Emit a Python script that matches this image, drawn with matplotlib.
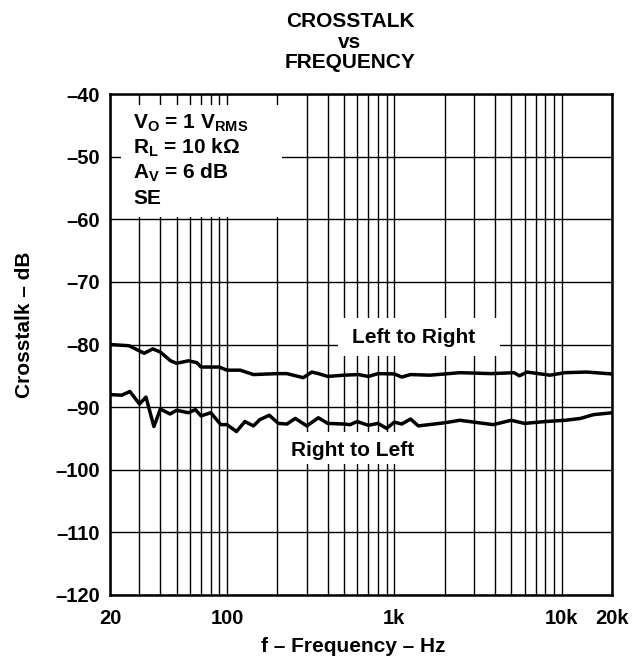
import numpy as np
import matplotlib
matplotlib.use('Agg')
import matplotlib.pyplot as plt
from matplotlib.patches import Rectangle
from matplotlib.ticker import FixedLocator, NullFormatter

plt.rcParams['font.family'] = ['Liberation Sans', 'DejaVu Sans']
plt.rcParams['font.weight'] = 'bold'
plt.rcParams['axes.labelweight'] = 'bold'
plt.rcParams['mathtext.fontset'] = 'custom'
plt.rcParams['mathtext.rm'] = 'Liberation Sans:bold'
plt.rcParams['mathtext.it'] = 'Liberation Sans:bold'
plt.rcParams['mathtext.bf'] = 'Liberation Sans:bold'

# Left to Right crosstalk (Hz, dB)
ltr_freq = [20, 26, 32, 36, 40, 46, 50, 59, 66, 70, 90, 100, 120, 144, 200, 228,
            286, 321, 352, 400, 500, 610, 700, 800, 1000, 1108, 1250, 1634,
            2466, 3800, 5200, 5600, 6200, 8500, 10500, 14100, 20000]
ltr_db = [-80.0, -80.2, -81.4, -80.7, -81.2, -82.6, -83.0, -82.6, -82.9, -83.6,
          -83.6, -84.1, -84.1, -84.8, -84.65, -84.65, -85.3, -84.4, -84.65,
          -85.1, -84.9, -84.8, -85.1, -84.65, -84.7, -85.2, -84.8, -84.9,
          -84.5, -84.65, -84.5, -85.0, -84.4, -84.9, -84.5, -84.4, -84.7]

# Right to Left crosstalk (Hz, dB)
rtl_freq = [20, 23.5, 26.3, 30, 32.8, 36.6, 40, 45.7, 50, 58.8, 64.8, 70, 80,
            92, 100, 114, 128, 144, 157, 179, 203, 228, 256, 300, 352, 400,
            500, 544, 600, 700, 800, 900, 1000, 1108, 1250, 1392, 2000, 2466,
            3900, 5000, 6000, 8000, 10500, 13000, 15500, 20000]
rtl_db = [-88.0, -88.1, -87.5, -89.5, -88.4, -93.1, -90.3, -91.1, -90.5, -90.9,
          -90.4, -91.4, -90.9, -92.8, -92.8, -93.9, -92.3, -93.0, -92.0, -91.3,
          -92.6, -92.7, -91.8, -93.0, -91.7, -92.6, -92.7, -92.8, -92.3, -92.9,
          -92.6, -93.4, -92.4, -92.7, -91.9, -93.0, -92.5, -92.1, -92.8, -92.1,
          -92.6, -92.3, -92.1, -91.8, -91.2, -90.9]

x_ticks = [20, 100, 1000, 10000, 20000]
x_labels = ['20', '100', '1k', '10k', '20k']
y_ticks = [-40, -50, -60, -70, -80, -90, -100, -110, -120]
y_labels = ['\u201340', '\u201350', '\u201360', '\u201370', '\u201380', '\u201390',
            '\u2013100', '\u2013110', '\u2013120']

W, H = 642, 662
fig = plt.figure(figsize=(W / 100, H / 100), dpi=100)
ax = fig.add_axes([110 / W, 1 - 595 / H, 502 / W, 501 / H])

ax.set_xscale('log')
ax.set_xlim(20, 20000)
ax.set_ylim(-120, -40)

grid_x = list(range(20, 100, 10)) + list(range(100, 1000, 100)) + \
    list(range(1000, 10000, 1000)) + [10000, 20000]
ax.xaxis.set_major_locator(FixedLocator(x_ticks))
ax.set_xticklabels(x_labels)
ax.xaxis.set_minor_locator(FixedLocator(grid_x))
ax.xaxis.set_minor_formatter(NullFormatter())
ax.set_yticks(y_ticks)
ax.set_yticklabels(y_labels)
ax.tick_params(which='both', length=0, labelsize=14.5)
ax.tick_params(axis='x', pad=10)
ax.tick_params(axis='y', pad=7)
ax.grid(True, which='both', color='black', linewidth=1.0)
ax.set_axisbelow(True)

for s in ax.spines.values():
    s.set_linewidth(1.8)
    s.set_zorder(10)

# white boxes that cut the grid
ax.add_patch(Rectangle((0.022, 0.755), 0.321, 0.223, transform=ax.transAxes,
                       facecolor='white', edgecolor='none', zorder=2))
ax.add_patch(Rectangle((0.454, 0.477), 0.323, 0.076, transform=ax.transAxes,
                       facecolor='white', edgecolor='none', zorder=2))
ax.add_patch(Rectangle((0.349, 0.261), 0.278, 0.064, transform=ax.transAxes,
                       facecolor='white', edgecolor='none', zorder=2))

ax.plot(ltr_freq, ltr_db, color='black', linewidth=2.5, zorder=5)
ax.plot(rtl_freq, rtl_db, color='black', linewidth=2.5, zorder=5)

ax.text(0.604, 0.513, 'Left to Right', transform=ax.transAxes, fontsize=15,
        ha='center', va='center', zorder=6)
ax.text(0.484, 0.289, 'Right to Left', transform=ax.transAxes, fontsize=15,
        ha='center', va='center', zorder=6)

cond = [r'V$_\mathrm{O}$ = 1 V$_\mathrm{RMS}$',
        r'R$_\mathrm{L}$ = 10 k$\Omega$',
        r'A$_\mathrm{V}$ = 6 dB',
        'SE']
for i, t in enumerate(cond):
    ax.text(0.046, 0.942 - i * 0.05, t, transform=ax.transAxes, fontsize=15,
            ha='left', va='center', zorder=6)

ax.set_xlabel('f \u2013 Frequency \u2013 Hz', fontsize=15)
ax.xaxis.set_label_coords((353 - 110) / 502, (595 - 647) / 501)
ax.xaxis.label.set_va('center')
ax.set_ylabel('Crosstalk \u2013 dB', fontsize=15)
ax.yaxis.set_label_coords((25 - 110) / 502, (595 - 325) / 501)
ax.yaxis.label.set_va('center')

for txt, yb in [('CROSSTALK', 27), ('vs', 48), ('FREQUENCY', 68)]:
    fig.text(350 / W, 1 - yb / H, txt, ha='center', va='baseline', fontsize=15)

fig.savefig('out.png', dpi=100)
